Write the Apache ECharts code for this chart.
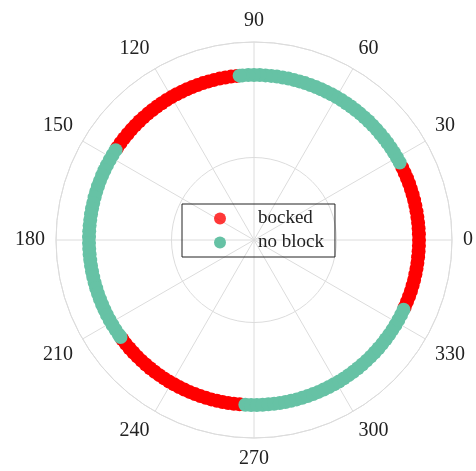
<!DOCTYPE html>
<html>
<head>
<meta charset="utf-8">
<script src="https://cdn.jsdelivr.net/npm/echarts@6/dist/echarts.min.js"></script>
<style>
  html, body { margin: 0; padding: 0; background: #fff; }
  #polar { width: 476px; height: 471px; }
</style>
</head>
<body>
<div id="polar"></div>
<script>
// series names
const seriesNames = ['bocked', 'no block']
// all points sit on the same radius
const ringRadius = 1
// angles (degrees) of the blocked points
const blockedAngles = [
  0, 2, 4, 6, 8, 10, 12, 14, 16, 18, 20, 22, 24, 26,
  96, 98, 100, 102, 104, 106, 108, 110, 112, 114, 116, 118, 120, 122, 124, 126,
  128, 130, 132, 134, 136, 138, 140, 142, 144, 146,
  217, 219, 221, 223, 225, 227, 229, 231, 233, 235, 237, 239, 241, 243, 245,
  247, 249, 251, 253, 255, 257, 259, 261, 263, 265,
  336, 338, 340, 342, 344, 346, 348, 350, 352, 354, 356, 358
]
// angles (degrees) of the points with no block
const openAngles = [
  28, 30, 32, 34, 36, 38, 40, 42, 44, 46, 48, 50, 52, 54, 56, 58, 60, 62, 64,
  66, 68, 70, 72, 74, 76, 78, 80, 82, 84, 86, 88, 90, 92, 94, 95,
  147, 149, 151, 153, 155, 157, 159, 161, 163, 165, 167, 169, 171, 173, 175,
  177, 179, 181, 183, 185, 187, 189, 191, 193, 195, 197, 199, 201, 203, 205,
  207, 209, 211, 213, 215, 216,
  267, 269, 271, 273, 275, 277, 279, 281, 283, 285, 287, 289, 291, 293, 295,
  297, 299, 301, 303, 305, 307, 309, 311, 313, 315, 317, 319, 321, 323, 325,
  327, 329, 331, 333, 335
]
// angle tick labels
const angleLabels = ['0', '30', '60', '90', '120', '150', '180', '210', '240', '270', '300', '330']

const font = 'Liberation Serif'
const gridColor = '#dcdcdc'
const red = '#ff0000'
const teal = '#66c2a5'

let myChart = echarts.init(document.getElementById('polar'))

let options = {
  animation: false,
  polar: {
    center: [254, 240],
    radius: 198
  },
  legend: {
    orient: 'vertical',
    left: 182,
    top: 204,
    padding: [5, 11, 5, 32],
    itemGap: 5,
    itemWidth: 12,
    itemHeight: 12,
    icon: 'circle',
    borderColor: '#222',
    borderWidth: 1,
    borderRadius: 0,
    textStyle: {
      fontFamily: font,
      fontSize: 19,
      color: '#222',
      padding: [0, 0, 0, 27]
    },
    data: [
      { name: seriesNames[0], itemStyle: { color: red, opacity: 0.78 } },
      { name: seriesNames[1], itemStyle: { color: teal, opacity: 1 } }
    ]
  },
  angleAxis: {
    type: 'value',
    min: 0,
    max: 360,
    interval: 30,
    startAngle: 0,
    clockwise: false,
    axisLine: { show: true, lineStyle: { color: gridColor, width: 1 } },
    axisTick: { show: false },
    splitLine: { show: true, lineStyle: { color: gridColor, width: 1 } },
    axisLabel: {
      margin: 11,
      fontFamily: font,
      fontSize: 20,
      color: '#222',
      formatter: v => {
        let i = Math.round(v / 30)
        return i < angleLabels.length ? angleLabels[i] : ''
      }
    }
  },
  radiusAxis: {
    type: 'value',
    min: 0,
    max: 1.2,
    interval: 0.5,
    axisLine: { show: false },
    axisTick: { show: false },
    axisLabel: { show: false },
    splitLine: { show: true, lineStyle: { color: gridColor, width: 1 } }
  },
  series: [
    {
      name: seriesNames[0],
      type: 'scatter',
      coordinateSystem: 'polar',
      symbol: 'circle',
      symbolSize: 14,
      itemStyle: { color: red, opacity: 1 },
      data: blockedAngles.map(a => [ringRadius, a])
    },
    {
      name: seriesNames[1],
      type: 'scatter',
      coordinateSystem: 'polar',
      symbol: 'circle',
      symbolSize: 14,
      itemStyle: { color: teal, opacity: 1 },
      data: openAngles.map(a => [ringRadius, a])
    }
  ]
}

myChart.setOption(options)
</script>
</body>
</html>
